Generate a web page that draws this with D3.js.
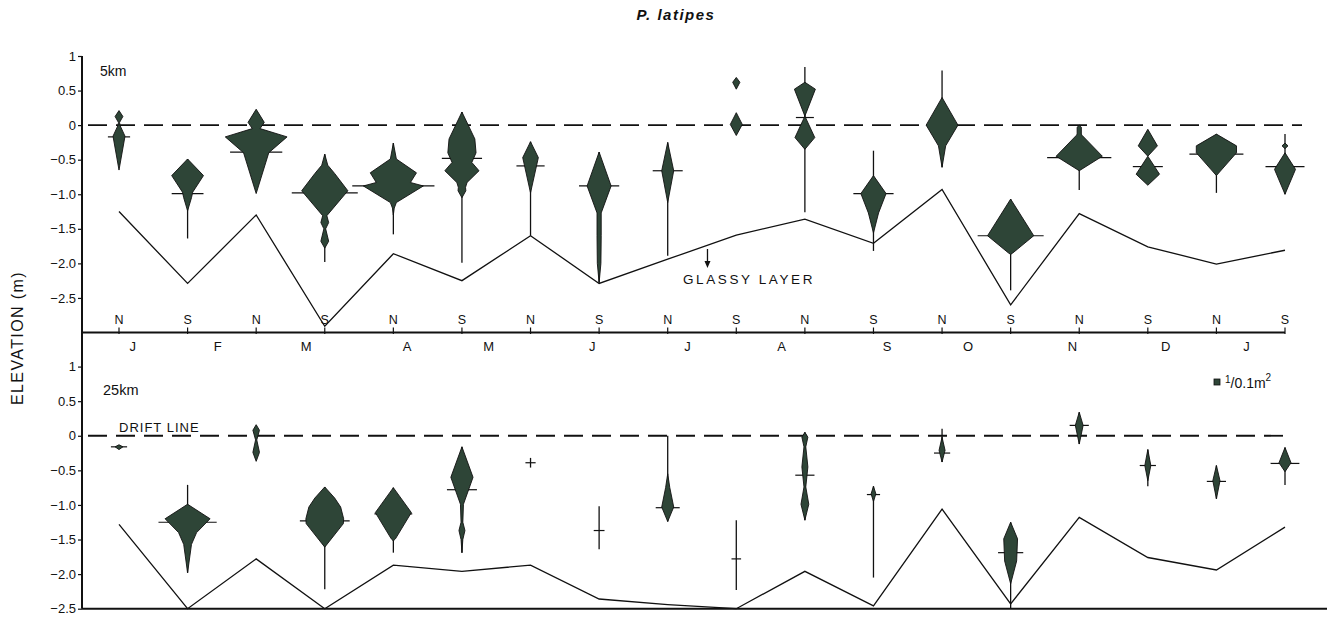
<!DOCTYPE html>
<html><head><meta charset="utf-8">
<script src="https://cdn.jsdelivr.net/npm/d3@7"></script>
<style>
html,body{margin:0;padding:0;background:#fff;}
text{font-family:"Liberation Sans",Arial,sans-serif;fill:#111;}
</style></head>
<body><svg id="c" width="1327" height="618"></svg>
<script>
// ---------- DATA ----------
const sampleLabels = ["N","S","N","S","N","S","N","S","N","S","N","S","N","S","N","S","N","S"];
const monthLabels = ["J","F","M","A","M","J","J","A","S","O","N","D","J"];
// month label positions, in sample-index units
const monthPos = [0.2,1.44,2.73,4.2,5.39,6.9,8.29,9.66,11.2,12.38,13.9,15.26,16.44];
const yTickValues = [1,0.5,0,-0.5,-1,-1.5,-2,-2.5];
const yTickLabels = ["1","0.5","0","\u22120.5","\u22121.0","\u22121.5","\u22122.0","\u22122.5"];

// substrate / profile line elevations (m)
const profile5km  = [-1.25,-2.29,-1.30,-2.91,-1.86,-2.25,-1.60,-2.29,-1.94,-1.59,-1.36,-1.71,-0.93,-2.60,-1.28,-1.76,-2.01,-1.81];
const profile25km = [-1.28,-2.50,-1.78,-2.50,-1.87,-1.96,-1.87,-2.36,-2.44,-2.50,-1.96,-2.46,-1.06,-2.43,-1.18,-1.76,-1.94,-1.32];

// mean elevation of the population (null = none drawn)
const mean5km  = [-0.17,-0.99,-0.39,-0.98,-0.88,-0.48,-0.59,-0.88,-0.66,null,0.11,-0.99,0.0,-1.60,-0.47,-0.60,-0.42,-0.60];
const meanW5km = [3.7,5.3,8.7,11,13.7,6.7,4.7,6.7,5,0,3,6.7,5.3,11,10.7,5,9,6.5];
const mean25km  = [-0.16,-1.25,null,-1.23,-1.13,-0.78,-0.39,-1.37,-1.04,-1.78,-0.57,-0.85,-0.25,-1.69,0.15,-0.43,-0.66,-0.40];
const meanW25km = [2.7,9.7,0,8.3,6.3,5,1.7,1.8,4,1.6,3.2,2.2,2.7,4.2,3.2,2.7,3.2,4.8];

// vertical range of occurrence [low, high] (null = none)
const range5km = [null,[-1.64,-0.49],null,[-1.98,-0.42],[-1.58,-0.26],[-1.99,0.19],[-1.60,-0.24],[-2.28,-0.39],[-1.89,-0.25],null,
                  [-1.26,0.84],[-1.82,-0.37],[-0.61,0.79],[-2.39,-1.07],[-0.94,0.0],null,[-0.98,-0.13],[-1.0,-0.13]];
const range25km = [null,[-1.98,-0.71],null,[-2.22,-0.74],[-1.69,-0.75],[-1.69,-0.16],[-0.46,-0.32],[-1.64,-1.02],[-1.24,0.0],[-2.23,-1.22],
                   [-1.22,0.05],[-2.05,-0.73],[-0.38,0.10],[-2.5,-1.25],[-0.12,0.34],[-0.73,-0.20],[-0.91,-0.43],[-0.71,-0.17]];

// kite profiles: per sample, list of segments of [elevation m, density per 0.1 m2]
const kites5km = [
  [[[0.21,0],[0.125,1.3],[0.04,0.2],[0.0,0.3],[-0.16,2.0],[-0.65,0]]],
  [[[-0.49,0],[-0.73,5.3],[-0.97,1.7],[-1.05,1.3],[-1.24,0]]],
  [[[0.23,0],[0.04,2.7],[-0.05,1.3],[-0.17,10.3],[-0.40,4.2],[-0.99,0]]],
  [[[-0.42,0],[-0.58,1],[-0.7,3.3],[-0.95,7.7],[-1.31,0.7],[-1.41,1.3],[-1.5,0.3],[-1.68,1.3],[-1.78,0]]],
  [[[-0.26,0],[-0.49,1],[-0.69,7.7],[-0.83,5.7],[-0.88,10],[-1.12,1],[-1.2,0.3],[-1.3,0]]],
  [[[0.19,0],[-0.20,4.3],[-0.40,4.7],[-0.54,3.3],[-0.66,5.7],[-0.83,1.7],[-0.9,1.2],[-0.95,1.3],[-1.05,0]]],
  [[[-0.24,0],[-0.47,2.6],[-0.98,0]]],
  [[[-0.39,0],[-0.88,4],[-1.27,0.7],[-1.6,0.7],[-2.0,0.6],[-2.28,0]]],
  [[[-0.25,0],[-0.66,2],[-1.12,0]]],
  [[[0.69,0],[0.62,1.2],[0.52,0]],[[0.18,0],[0.01,2],[-0.15,0]]],
  [[[0.62,0],[0.52,3.5],[0.13,0],[-0.18,3.3],[-0.35,0]]],
  [[[-0.73,0],[-0.99,4.2],[-1.27,1.7],[-1.56,0]]],
  [[[0.40,0],[0.0,5.3],[-0.30,1.2],[-0.61,0]]],
  [[[-1.07,0],[-1.60,7.7],[-1.85,0.7],[-1.87,0]]],
  [[[0.0,0],[-0.03,0.7],[-0.13,0.7],[-0.15,1],[-0.45,7.7],[-0.66,0]]],
  [[[-0.06,0],[-0.30,3.2],[-0.45,0],[-0.71,3.9],[-0.87,0]]],
  [[[-0.13,0],[-0.30,6.7],[-0.40,6.7],[-0.73,0]]],
  [[[-0.26,0],[-0.30,1],[-0.34,0]],[[-0.40,0],[-0.64,3.5],[-1.0,0]]]
];
const kites25km = [
  [[[-0.13,0],[-0.16,1.3],[-0.20,0]]],
  [[[-0.99,0],[-1.20,7.5],[-1.40,3.0],[-1.57,1.3],[-1.98,0]]],
  [[[0.16,0],[0.08,1.1],[-0.06,0.2],[-0.24,1.1],[-0.37,0]]],
  [[[-0.74,0],[-0.90,3.3],[-1.03,5.3],[-1.20,6.3],[-1.27,6.2],[-1.61,0]]],
  [[[-0.75,0],[-1.11,6],[-1.49,0.7],[-1.52,0]]],
  [[[-0.16,0],[-0.60,3.7],[-0.99,0.5],[-1.25,0.3],[-1.37,1],[-1.50,0.3],[-1.69,0]]],
  [],
  [],
  [[[-0.55,0],[-0.75,0.7],[-1.03,2],[-1.24,0]]],
  [],
  [[[0.05,0],[-0.02,1],[-0.16,0.3],[-0.45,1],[-0.74,0.3],[-0.99,1.3],[-1.22,0]]],
  [[[-0.73,0],[-0.84,0.8],[-0.95,0]]],
  [[[-0.02,0],[-0.21,1],[-0.38,0]]],
  [[[-1.25,0],[-1.49,2.3],[-1.81,2],[-2.14,0]]],
  [[[0.34,0],[0.15,1.3],[-0.12,0]]],
  [[[-0.20,0],[-0.43,1],[-0.65,0]]],
  [[[-0.43,0],[-0.65,1.2],[-0.91,0]]],
  [[[-0.17,0],[-0.39,2],[-0.52,0]]]
];

// ---------- DRAW ----------
const svg = d3.select("#c");
const idx = d3.range(sampleLabels.length);
const x = d3.scaleLinear().domain([0, sampleLabels.length-1]).range([119, 1285]);
const yTop = d3.scaleLinear().domain([-3, 1]).range([332.5, 56]);
const yBot = d3.scaleLinear().domain([-2.5, 1.5]).range([608.7, 332]);
const hw = d3.scaleLinear().domain([0, 1]).range([0, 3]); // half-width per density unit
const FILL = "#2e4537";
const AXL = 82;

// title
svg.append("text").attr("x", 676).attr("y", 20).attr("text-anchor","middle")
  .style("font-size","15px").style("font-weight","bold").style("font-style","italic")
  .style("letter-spacing","1.5px").text("P. latipes");

// y label
svg.append("text").attr("transform","translate(23,338) rotate(-90)").attr("text-anchor","middle")
  .style("font-size","16px").style("letter-spacing","1.4px").text("ELEVATION (m)");

function yAxis(y){
  const ax = d3.axisLeft(y).tickValues(yTickValues).tickSize(4).tickPadding(2)
    .tickFormat((d,i)=>yTickLabels[i]);
  const g = svg.append("g").attr("transform",`translate(${AXL},0)`).call(ax);
  g.select(".domain").remove();
  g.selectAll("text").style("font-size","13px").style("font-family","Liberation Sans, Arial, sans-serif").attr("fill","#111");
  g.selectAll("line").attr("stroke","#111").attr("stroke-width",1.2);
}
yAxis(yTop); yAxis(yBot);
// vertical y axis line
svg.append("line").attr("x1",AXL).attr("x2",AXL).attr("y1",yTop(1)).attr("y2",yBot(-2.5))
  .attr("stroke","#111").attr("stroke-width",2);

// top x axis
svg.append("line").attr("x1",AXL).attr("x2",x(17)).attr("y1",yTop(-3)).attr("y2",yTop(-3))
  .attr("stroke","#111").attr("stroke-width",2);
svg.selectAll(".xt").data(idx).join("line").attr("x1",d=>x(d)).attr("x2",d=>x(d))
  .attr("y1",yTop(-3)-5).attr("y2",yTop(-3)+1.5).attr("stroke","#111").attr("stroke-width",1.2);
svg.selectAll(".xl").data(idx).join("text").attr("x",d=>x(d)).attr("y",yTop(-3)-9)
  .attr("text-anchor","middle").style("font-size","12.5px").text(d=>sampleLabels[d]);
svg.selectAll(".ml").data(monthLabels).join("text").attr("x",(d,i)=>x(monthPos[i])).attr("y",yTop(-3)+18)
  .attr("text-anchor","middle").style("font-size","13px").text(d=>d);
// bottom x axis
svg.append("line").attr("x1",AXL).attr("x2",1327).attr("y1",yBot(-2.5)).attr("y2",yBot(-2.5))
  .attr("stroke","#111").attr("stroke-width",2);

function panel(y, profile, means, meanW, ranges, kites, dashEnd){
  // substrate line
  svg.append("path").datum(profile)
    .attr("d", d3.line().x((d,i)=>x(i)).y(d=>y(d)))
    .attr("fill","none").attr("stroke","#111").attr("stroke-width",1.3);
  // drift line (dashed)
  svg.append("line").attr("x1",88).attr("x2",dashEnd).attr("y1",y(0)).attr("y2",y(0))
    .attr("stroke","#111").attr("stroke-width",1.8).attr("stroke-dasharray","19,9");
  // ranges
  ranges.forEach((r,i)=>{ if(!r) return;
    svg.append("line").attr("x1",x(i)).attr("x2",x(i)).attr("y1",y(r[0])).attr("y2",y(r[1]))
      .attr("stroke","#111").attr("stroke-width",1.3);
  });
  // mean ticks
  means.forEach((m,i)=>{ if(m===null) return;
    svg.append("line").attr("x1",x(i)-hw(meanW[i])).attr("x2",x(i)+hw(meanW[i]))
      .attr("y1",y(m)).attr("y2",y(m)).attr("stroke","#111").attr("stroke-width",1.2);
  });
  // kites
  const line = d3.line().x(d=>d[0]).y(d=>d[1]);
  kites.forEach((segs,i)=>{
    segs.forEach(seg=>{
      const cx = x(i);
      const right = seg.map(p=>[cx+hw(p[1]), y(p[0])]);
      const left = seg.slice().reverse().map(p=>[cx-hw(p[1]), y(p[0])]);
      svg.append("path").attr("d", line(right.concat(left))+"Z")
        .attr("fill",FILL).attr("stroke","#111").attr("stroke-width",0.9).attr("stroke-linejoin","miter");
    });
  });
}
panel(yTop, profile5km, mean5km, meanW5km, range5km, kites5km, 1302);
panel(yBot, profile25km, mean25km, meanW25km, range25km, kites25km, 1292);

// annotations
svg.append("text").attr("x",100).attr("y",76).style("font-size","14px").text("5km");
svg.append("text").attr("x",103).attr("y",395).style("font-size","14.5px").text("25km");
svg.append("text").attr("x",119).attr("y",yBot(0)-4).style("font-size","13px").style("letter-spacing","1px").text("DRIFT LINE");
svg.append("text").attr("x",683).attr("y",284).style("font-size","13.5px").style("letter-spacing","2.6px").text("GLASSY  LAYER");
// arrow
const ax0 = x(8.58);
svg.append("line").attr("x1",ax0).attr("x2",ax0).attr("y1",249).attr("y2",264).attr("stroke","#111").attr("stroke-width",1.3);
svg.append("path").attr("d",`M${ax0-3},261 L${ax0+3},261 L${ax0},268 Z`).attr("fill","#111");

// legend
svg.append("rect").attr("x",1214).attr("y",379).attr("width",hw(2)).attr("height",hw(2))
  .attr("fill",FILL).attr("stroke","#111").attr("stroke-width",0.8);
const lt = svg.append("text").attr("x",1225).attr("y",388).style("font-size","14px");
lt.append("tspan").attr("dy",-5).style("font-size","10px").text("1");
lt.append("tspan").attr("dy",5).text("/0.1m");
lt.append("tspan").attr("dy",-7).style("font-size","10px").text("2");
</script></body></html>
